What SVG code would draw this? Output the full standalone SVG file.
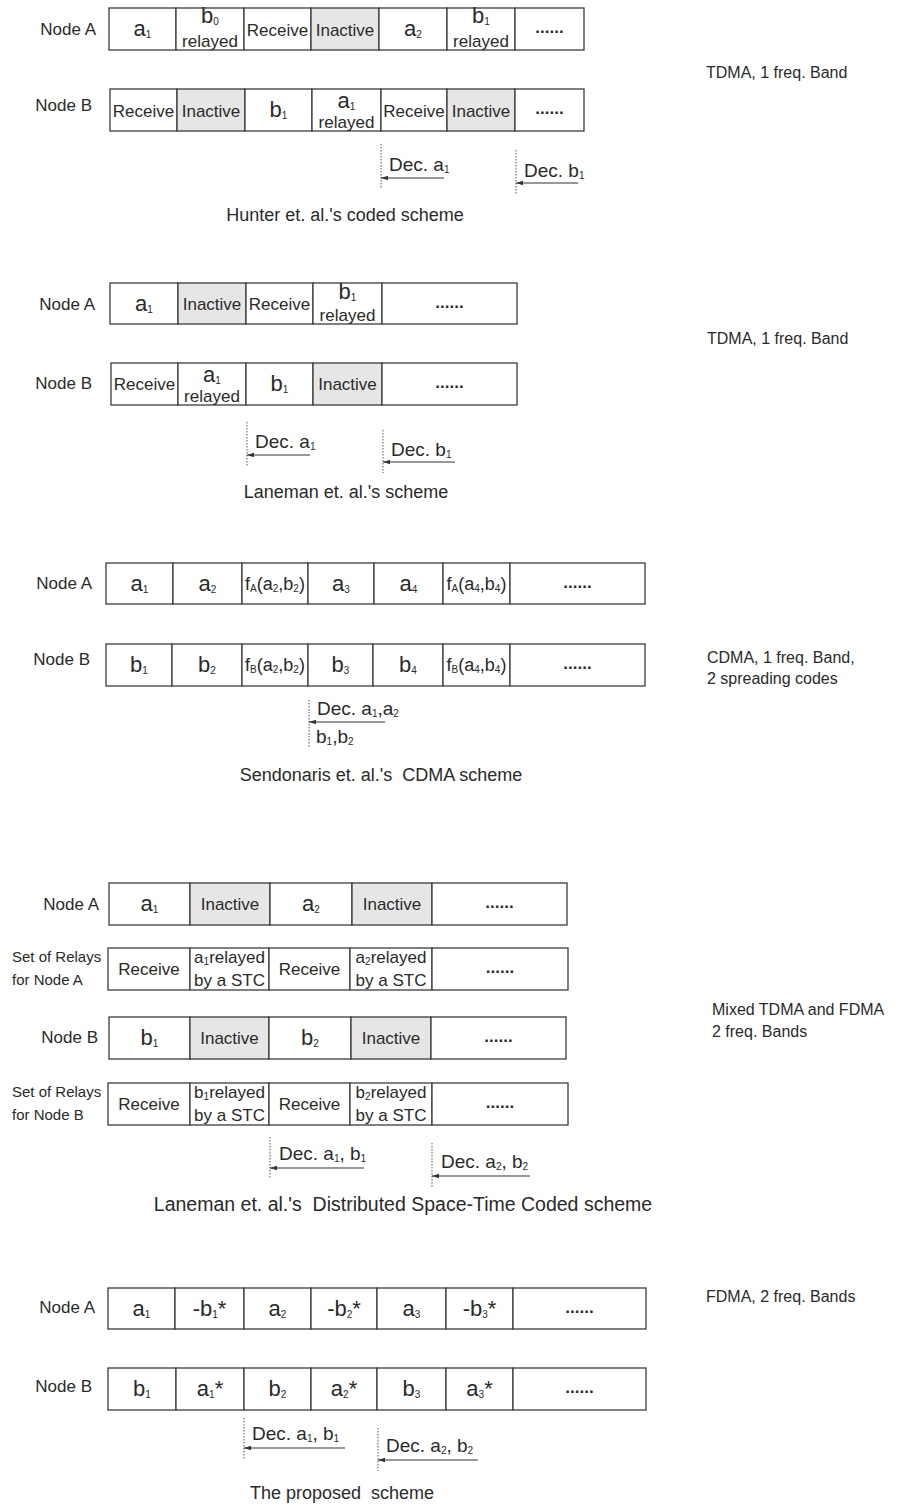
<svg xmlns="http://www.w3.org/2000/svg" width="919" height="1509" viewBox="0 0 919 1509">
<style>
.c{fill:#fff;stroke:#3c3c3c;stroke-width:1.3}
.g{fill:#e6e6e6;stroke:#3c3c3c;stroke-width:1.3}
text{font-family:"Liberation Sans",Arial,sans-serif;fill:#2a2a2a}
.t{font-size:17px;text-anchor:middle}
.sym{font-size:22px;text-anchor:middle}
.f{font-size:18px;text-anchor:middle}
.s{font-size:10px}
.lab{font-size:17px;text-anchor:end}
.lab2{font-size:15px}
.dots{font-size:17px;font-weight:bold;text-anchor:middle}
.cap{font-size:18px;text-anchor:middle}
.side{font-size:16px}
.dec{font-size:19px}
.vd{stroke:#555;stroke-width:1;stroke-dasharray:1.5 1.5;fill:none}
.ar{stroke:#333;stroke-width:1;fill:none;marker-start:url(#ah)}
</style>
<defs>
<marker id="ah" markerWidth="8" markerHeight="6" refX="0" refY="3" orient="auto" markerUnits="userSpaceOnUse"><path d="M0,3 L7,0.8 L7,5.2 Z" fill="#333"/></marker>
</defs>

<!-- Section 1: Hunter -->
<g id="s1-nodeA">
<text class="lab" x="96" y="35">Node A</text>
<rect class="c" x="109" y="8" width="67" height="42"/>
<rect class="c" x="176" y="8" width="68" height="42"/>
<rect class="c" x="244" y="8" width="67" height="42"/>
<rect class="g" x="311" y="8" width="68" height="42"/>
<rect class="c" x="379" y="8" width="68" height="42"/>
<rect class="c" x="447" y="8" width="68" height="42"/>
<rect class="c" x="515" y="8" width="69" height="42"/>
<text class="sym" x="142.5" y="36">a<tspan class="s" dy="2">1</tspan></text>
<text class="sym" x="210" y="23">b<tspan class="s" dy="2">0</tspan></text>
<text class="t" x="210" y="47">relayed</text>
<text class="t" x="277.5" y="36">Receive</text>
<text class="t" x="345" y="36">Inactive</text>
<text class="sym" x="413" y="36">a<tspan class="s" dy="2">2</tspan></text>
<text class="sym" x="481" y="23">b<tspan class="s" dy="2">1</tspan></text>
<text class="t" x="481" y="47">relayed</text>
<text class="dots" x="549.5" y="33">......</text>
</g>
<g id="s1-nodeB">
<text class="lab" x="92" y="111">Node B</text>
<rect class="c" x="110" y="89" width="67" height="42"/>
<rect class="g" x="177" y="89" width="68" height="42"/>
<rect class="c" x="245" y="89" width="67" height="42"/>
<rect class="c" x="312" y="89" width="69" height="42"/>
<rect class="c" x="381" y="89" width="66" height="42"/>
<rect class="g" x="447" y="89" width="68" height="42"/>
<rect class="c" x="515" y="89" width="69" height="42"/>
<text class="t" x="143.5" y="117">Receive</text>
<text class="t" x="211" y="117">Inactive</text>
<text class="sym" x="278.5" y="117">b<tspan class="s" dy="2">1</tspan></text>
<text class="sym" x="346.5" y="108">a<tspan class="s" dy="2">1</tspan></text>
<text class="t" x="346.5" y="128">relayed</text>
<text class="t" x="414" y="117">Receive</text>
<text class="t" x="481" y="117">Inactive</text>
<text class="dots" x="549.5" y="114">......</text>
</g>
<text class="cap" x="345" y="221">Hunter et. al.'s coded scheme</text>
<text class="side" x="706" y="78">TDMA, 1 freq. Band</text>

<!-- Section 2: Laneman -->
<g id="s2-nodeA">
<text class="lab" x="95" y="310">Node A</text>
<rect class="c" x="110" y="283" width="68" height="41"/>
<rect class="g" x="178" y="283" width="68" height="41"/>
<rect class="c" x="246" y="283" width="67" height="41"/>
<rect class="c" x="313" y="283" width="69" height="41"/>
<rect class="c" x="382" y="283" width="135" height="41"/>
<text class="sym" x="144" y="311">a<tspan class="s" dy="2">1</tspan></text>
<text class="t" x="212" y="310">Inactive</text>
<text class="t" x="279.5" y="310">Receive</text>
<text class="sym" x="347.5" y="299">b<tspan class="s" dy="2">1</tspan></text>
<text class="t" x="347.5" y="321">relayed</text>
<text class="dots" x="449.5" y="308">......</text>
</g>
<g id="s2-nodeB">
<text class="lab" x="92" y="389">Node B</text>
<rect class="c" x="111" y="363" width="67" height="42"/>
<rect class="c" x="178" y="363" width="68" height="42"/>
<rect class="c" x="246" y="363" width="67" height="42"/>
<rect class="g" x="313" y="363" width="69" height="42"/>
<rect class="c" x="382" y="363" width="135" height="42"/>
<text class="t" x="144.5" y="390">Receive</text>
<text class="sym" x="212" y="382">a<tspan class="s" dy="2">1</tspan></text>
<text class="t" x="212" y="402">relayed</text>
<text class="sym" x="279.5" y="391">b<tspan class="s" dy="2">1</tspan></text>
<text class="t" x="347.5" y="390">Inactive</text>
<text class="dots" x="449.5" y="388">......</text>
</g>
<text class="cap" x="346" y="498">Laneman et. al.'s scheme</text>
<text class="side" x="707" y="344">TDMA, 1 freq. Band</text>

<!-- Section 3: Sendonaris -->
<g id="s3-nodeA">
<text class="lab" x="92" y="589">Node A</text>
<rect class="c" x="106" y="563" width="67" height="41"/>
<rect class="c" x="173" y="563" width="69" height="41"/>
<rect class="c" x="242" y="563" width="66" height="41"/>
<rect class="c" x="308" y="563" width="66" height="41"/>
<rect class="c" x="374" y="563" width="69" height="41"/>
<rect class="c" x="443" y="563" width="67" height="41"/>
<rect class="c" x="510" y="563" width="135" height="41"/>
<text class="sym" x="139.5" y="591">a<tspan class="s" dy="2">1</tspan></text>
<text class="sym" x="207.5" y="591">a<tspan class="s" dy="2">2</tspan></text>
<text class="f" x="275" y="590">f<tspan class="s" dy="2">A</tspan><tspan dy="-2">(a</tspan><tspan class="s" dy="2">2</tspan><tspan dy="-2">,b</tspan><tspan class="s" dy="2">2</tspan><tspan dy="-2">)</tspan></text>
<text class="sym" x="341" y="591">a<tspan class="s" dy="2">3</tspan></text>
<text class="sym" x="408.5" y="591">a<tspan class="s" dy="2">4</tspan></text>
<text class="f" x="476.5" y="590">f<tspan class="s" dy="2">A</tspan><tspan dy="-2">(a</tspan><tspan class="s" dy="2">4</tspan><tspan dy="-2">,b</tspan><tspan class="s" dy="2">4</tspan><tspan dy="-2">)</tspan></text>
<text class="dots" x="577.5" y="588">......</text>
</g>
<g id="s3-nodeB">
<text class="lab" x="90" y="665">Node B</text>
<rect class="c" x="106" y="644" width="66" height="42"/>
<rect class="c" x="172" y="644" width="70" height="42"/>
<rect class="c" x="242" y="644" width="66" height="42"/>
<rect class="c" x="308" y="644" width="65" height="42"/>
<rect class="c" x="373" y="644" width="70" height="42"/>
<rect class="c" x="443" y="644" width="67" height="42"/>
<rect class="c" x="510" y="644" width="135" height="42"/>
<text class="sym" x="139" y="672">b<tspan class="s" dy="2">1</tspan></text>
<text class="sym" x="207" y="672">b<tspan class="s" dy="2">2</tspan></text>
<text class="f" x="275" y="671">f<tspan class="s" dy="2">B</tspan><tspan dy="-2">(a</tspan><tspan class="s" dy="2">2</tspan><tspan dy="-2">,b</tspan><tspan class="s" dy="2">2</tspan><tspan dy="-2">)</tspan></text>
<text class="sym" x="340.5" y="672">b<tspan class="s" dy="2">3</tspan></text>
<text class="sym" x="408" y="672">b<tspan class="s" dy="2">4</tspan></text>
<text class="f" x="476.5" y="671">f<tspan class="s" dy="2">B</tspan><tspan dy="-2">(a</tspan><tspan class="s" dy="2">4</tspan><tspan dy="-2">,b</tspan><tspan class="s" dy="2">4</tspan><tspan dy="-2">)</tspan></text>
<text class="dots" x="577.5" y="669">......</text>
</g>
<text class="cap" x="381" y="781" xml:space="preserve">Sendonaris et. al.'s  CDMA scheme</text>
<text class="side" x="707" y="663">CDMA, 1 freq. Band,</text>
<text class="side" x="707" y="684">2 spreading codes</text>

<!-- Section 4: Laneman DSTC -->
<g id="s4-nodeA">
<text class="lab" x="99" y="910">Node A</text>
<rect class="c" x="109" y="883" width="81" height="42"/>
<rect class="g" x="190" y="883" width="80" height="42"/>
<rect class="c" x="270" y="883" width="82" height="42"/>
<rect class="g" x="352" y="883" width="80" height="42"/>
<rect class="c" x="432" y="883" width="135" height="42"/>
<text class="sym" x="149.5" y="911">a<tspan class="s" dy="2">1</tspan></text>
<text class="t" x="230" y="910">Inactive</text>
<text class="sym" x="311" y="911">a<tspan class="s" dy="2">2</tspan></text>
<text class="t" x="392" y="910">Inactive</text>
<text class="dots" x="499.5" y="908">......</text>
</g>
<g id="s4-relaysA">
<text class="lab2" x="12" y="962">Set of Relays</text>
<text class="lab2" x="12" y="985">for Node A</text>
<rect class="c" x="108" y="948" width="82" height="42"/>
<rect class="c" x="190" y="948" width="79" height="42"/>
<rect class="c" x="269" y="948" width="81" height="42"/>
<rect class="c" x="350" y="948" width="82" height="42"/>
<rect class="c" x="432" y="948" width="136" height="42"/>
<text class="t" x="149" y="975">Receive</text>
<text class="t" x="229.5" y="963">a<tspan class="s" dy="2">1</tspan><tspan dy="-2">relayed</tspan></text>
<text class="t" x="229.5" y="986">by a STC</text>
<text class="t" x="309.5" y="975">Receive</text>
<text class="t" x="391" y="963">a<tspan class="s" dy="2">2</tspan><tspan dy="-2">relayed</tspan></text>
<text class="t" x="391" y="986">by a STC</text>
<text class="dots" x="500" y="973">......</text>
</g>
<g id="s4-nodeB">
<text class="lab" x="98" y="1043">Node B</text>
<rect class="c" x="109" y="1017" width="81" height="42"/>
<rect class="g" x="190" y="1017" width="79" height="42"/>
<rect class="c" x="269" y="1017" width="82" height="42"/>
<rect class="g" x="351" y="1017" width="80" height="42"/>
<rect class="c" x="431" y="1017" width="135" height="42"/>
<text class="sym" x="149.5" y="1045">b<tspan class="s" dy="2">1</tspan></text>
<text class="t" x="229.5" y="1044">Inactive</text>
<text class="sym" x="310" y="1045">b<tspan class="s" dy="2">2</tspan></text>
<text class="t" x="391" y="1044">Inactive</text>
<text class="dots" x="498.5" y="1042">......</text>
</g>
<g id="s4-relaysB">
<text class="lab2" x="12" y="1097">Set of Relays</text>
<text class="lab2" x="12" y="1120">for Node B</text>
<rect class="c" x="108" y="1083" width="82" height="42"/>
<rect class="c" x="190" y="1083" width="79" height="42"/>
<rect class="c" x="269" y="1083" width="81" height="42"/>
<rect class="c" x="350" y="1083" width="82" height="42"/>
<rect class="c" x="432" y="1083" width="136" height="42"/>
<text class="t" x="149" y="1110">Receive</text>
<text class="t" x="229.5" y="1098">b<tspan class="s" dy="2">1</tspan><tspan dy="-2">relayed</tspan></text>
<text class="t" x="229.5" y="1121">by a STC</text>
<text class="t" x="309.5" y="1110">Receive</text>
<text class="t" x="391" y="1098">b<tspan class="s" dy="2">2</tspan><tspan dy="-2">relayed</tspan></text>
<text class="t" x="391" y="1121">by a STC</text>
<text class="dots" x="500" y="1108">......</text>
</g>
<text class="cap" x="403" y="1211" style="font-size:19.5px" xml:space="preserve">Laneman et. al.'s  Distributed Space-Time Coded scheme</text>
<text class="side" x="712" y="1015">Mixed TDMA and FDMA</text>
<text class="side" x="712" y="1037">2 freq. Bands</text>

<!-- Section 5: proposed -->
<g id="s5-nodeA">
<text class="lab" x="95" y="1313">Node A</text>
<rect class="c" x="108" y="1288" width="67" height="41"/>
<rect class="c" x="175" y="1288" width="69" height="41"/>
<rect class="c" x="244" y="1288" width="67" height="41"/>
<rect class="c" x="311" y="1288" width="66" height="41"/>
<rect class="c" x="377" y="1288" width="69" height="41"/>
<rect class="c" x="446" y="1288" width="67" height="41"/>
<rect class="c" x="513" y="1288" width="133" height="41"/>
<text class="sym" x="141.5" y="1316">a<tspan class="s" dy="2">1</tspan></text>
<text class="sym" x="209.5" y="1316">-b<tspan class="s" dy="2">1</tspan><tspan dy="-2">*</tspan></text>
<text class="sym" x="277.5" y="1316">a<tspan class="s" dy="2">2</tspan></text>
<text class="sym" x="344" y="1316">-b<tspan class="s" dy="2">2</tspan><tspan dy="-2">*</tspan></text>
<text class="sym" x="411.5" y="1316">a<tspan class="s" dy="2">3</tspan></text>
<text class="sym" x="479.5" y="1316">-b<tspan class="s" dy="2">3</tspan><tspan dy="-2">*</tspan></text>
<text class="dots" x="579.5" y="1313">......</text>
</g>
<g id="s5-nodeB">
<text class="lab" x="92" y="1392">Node B</text>
<rect class="c" x="108" y="1368" width="68" height="42"/>
<rect class="c" x="176" y="1368" width="68" height="42"/>
<rect class="c" x="244" y="1368" width="67" height="42"/>
<rect class="c" x="311" y="1368" width="66" height="42"/>
<rect class="c" x="377" y="1368" width="69" height="42"/>
<rect class="c" x="446" y="1368" width="67" height="42"/>
<rect class="c" x="513" y="1368" width="133" height="42"/>
<text class="sym" x="142" y="1396">b<tspan class="s" dy="2">1</tspan></text>
<text class="sym" x="210" y="1396">a<tspan class="s" dy="2">1</tspan><tspan dy="-2">*</tspan></text>
<text class="sym" x="277.5" y="1396">b<tspan class="s" dy="2">2</tspan></text>
<text class="sym" x="344" y="1396">a<tspan class="s" dy="2">2</tspan><tspan dy="-2">*</tspan></text>
<text class="sym" x="411.5" y="1396">b<tspan class="s" dy="2">3</tspan></text>
<text class="sym" x="479.5" y="1396">a<tspan class="s" dy="2">3</tspan><tspan dy="-2">*</tspan></text>
<text class="dots" x="579.5" y="1393">......</text>
</g>
<text class="cap" x="342" y="1499" xml:space="preserve">The proposed  scheme</text>
<text class="side" x="706" y="1302">FDMA, 2 freq. Bands</text>

<!-- Connectors: decoding markers -->
<g id="connectors">
<line class="vd" x1="381" y1="144" x2="381" y2="189"/>
<line class="ar" x1="381" y1="178" x2="444" y2="178"/>
<text class="dec" x="389" y="171">Dec. a<tspan class="s" dy="2">1</tspan></text>
<line class="vd" x1="516" y1="150" x2="516" y2="195"/>
<line class="ar" x1="516" y1="183" x2="578" y2="183"/>
<text class="dec" x="524" y="177">Dec. b<tspan class="s" dy="2">1</tspan></text>

<line class="vd" x1="247" y1="422" x2="247" y2="466"/>
<line class="ar" x1="247" y1="455" x2="310" y2="455"/>
<text class="dec" x="255" y="448">Dec. a<tspan class="s" dy="2">1</tspan></text>
<line class="vd" x1="383" y1="430" x2="383" y2="473"/>
<line class="ar" x1="383" y1="462" x2="455" y2="462"/>
<text class="dec" x="391" y="456">Dec. b<tspan class="s" dy="2">1</tspan></text>

<line class="vd" x1="309" y1="700" x2="309" y2="748"/>
<line class="ar" x1="309" y1="722" x2="385" y2="722"/>
<text class="dec" x="317" y="715">Dec. a<tspan class="s" dy="2">1</tspan><tspan dy="-2">,a</tspan><tspan class="s" dy="2">2</tspan></text>
<text class="dec" x="316" y="743">b<tspan class="s" dy="2">1</tspan><tspan dy="-2">,b</tspan><tspan class="s" dy="2">2</tspan></text>

<line class="vd" x1="270" y1="1137" x2="270" y2="1178"/>
<line class="ar" x1="270" y1="1168" x2="364" y2="1168"/>
<text class="dec" x="279" y="1160">Dec. a<tspan class="s" dy="2">1</tspan><tspan dy="-2">, b</tspan><tspan class="s" dy="2">1</tspan></text>
<line class="vd" x1="432" y1="1143" x2="432" y2="1187"/>
<line class="ar" x1="432" y1="1176" x2="530" y2="1176"/>
<text class="dec" x="441" y="1168">Dec. a<tspan class="s" dy="2">2</tspan><tspan dy="-2">, b</tspan><tspan class="s" dy="2">2</tspan></text>

<line class="vd" x1="244" y1="1418" x2="244" y2="1460"/>
<line class="ar" x1="244" y1="1448" x2="345" y2="1448"/>
<text class="dec" x="252" y="1440">Dec. a<tspan class="s" dy="2">1</tspan><tspan dy="-2">, b</tspan><tspan class="s" dy="2">1</tspan></text>
<line class="vd" x1="378" y1="1428" x2="378" y2="1471"/>
<line class="ar" x1="378" y1="1460" x2="478" y2="1460"/>
<text class="dec" x="386" y="1452">Dec. a<tspan class="s" dy="2">2</tspan><tspan dy="-2">, b</tspan><tspan class="s" dy="2">2</tspan></text>
</g>
</svg>
